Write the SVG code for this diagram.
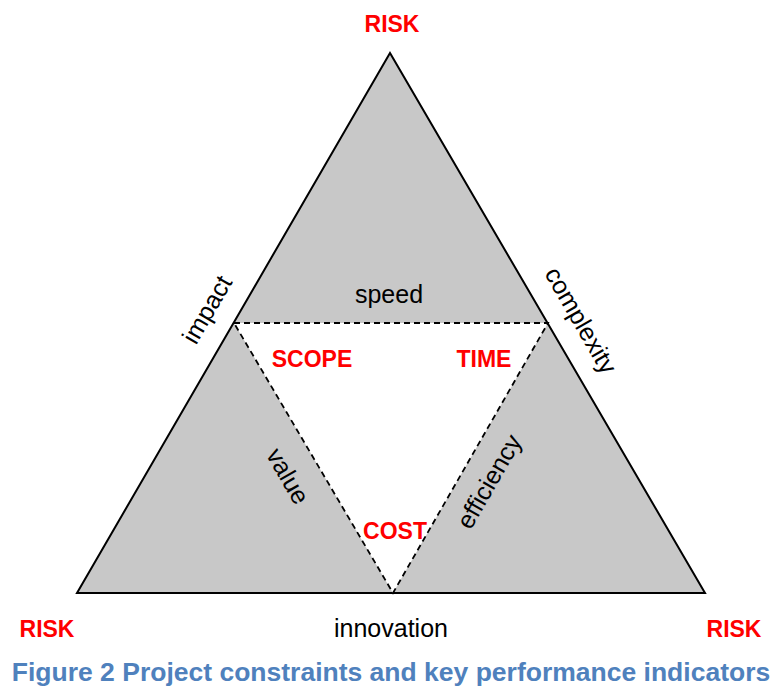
<svg xmlns="http://www.w3.org/2000/svg" width="773" height="686" viewBox="0 0 773 686">
  <style>
    .risk { font-family: "Liberation Sans", Arial, sans-serif; font-weight: bold; font-size: 23px; fill: #FF0000; text-anchor: middle; }
    .kpi { font-family: "Liberation Sans", Arial, sans-serif; font-size: 25px; fill: #000000; text-anchor: middle; }
    .caption { font-family: "Liberation Sans", Arial, sans-serif; font-weight: bold; font-size: 26.5px; fill: #4F81BD; text-anchor: middle; }
    .outer { fill: #C8C8C8; stroke: #000000; stroke-width: 2; stroke-linejoin: miter; }
    .inner { fill: #FFFFFF; stroke: #000000; stroke-width: 1.8; stroke-dasharray: 6 4; }
  </style>

  <!-- outer triangle with the inner dashed triangle cut out -->
  <g id="connectors">
    <polygon id="outer-triangle" class="outer" points="390,53 77,593 705,593"/>
    <polygon id="inner-triangle" class="inner" points="234,323 548,323 393,593"/>
  </g>

  <!-- corner risk labels -->
  <g id="risk-top"><text class="risk" x="392" y="32">RISK</text></g>
  <g id="risk-left"><text class="risk" x="47" y="637">RISK</text></g>
  <g id="risk-right"><text class="risk" x="734" y="637">RISK</text></g>

  <!-- constraints -->
  <g id="scope"><text class="risk" x="312" y="367">SCOPE</text></g>
  <g id="time"><text class="risk" x="484" y="367">TIME</text></g>
  <g id="cost"><text class="risk" x="395" y="539">COST</text></g>

  <!-- key performance indicators -->
  <g id="speed"><text class="kpi" x="389" y="303">speed</text></g>
  <g id="innovation"><text class="kpi" x="391" y="637">innovation</text></g>
  <g id="impact"><text class="kpi" transform="translate(208,310) rotate(-60)" dy="0.3em">impact</text></g>
  <g id="complexity"><text class="kpi" transform="translate(580,321) rotate(60)" dy="0.3em">complexity</text></g>
  <g id="value"><text class="kpi" transform="translate(288,476) rotate(60)" dy="0.35em">value</text></g>
  <g id="efficiency"><text class="kpi" transform="translate(490,482) rotate(-60)" dy="0.3em">efficiency</text></g>

  <!-- figure caption -->
  <g id="caption"><text class="caption" x="391" y="681">Figure 2 Project constraints and key performance indicators</text></g>
</svg>
